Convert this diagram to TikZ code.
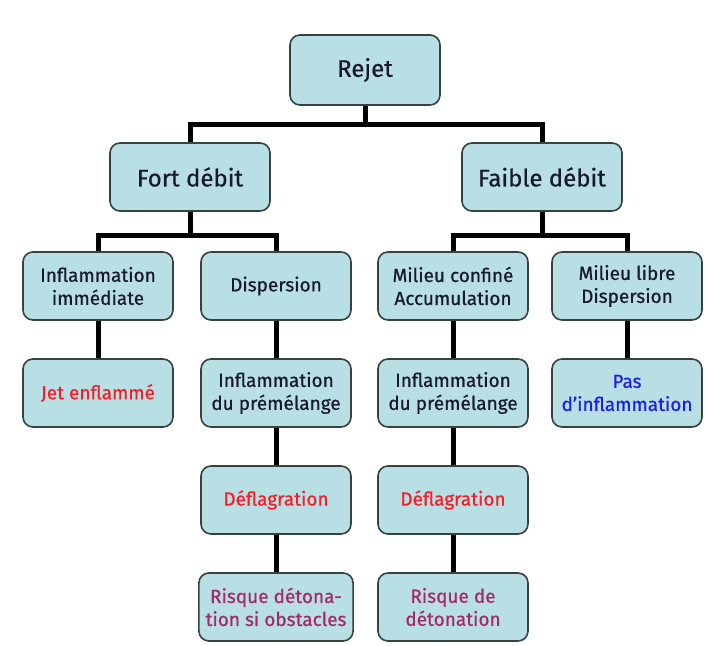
\documentclass[tikz,border=0pt]{standalone}
\usepackage{fontspec}
\setmainfont{Fira Sans}[FakeBold=0.6]
\usetikzlibrary{positioning}
\definecolor{boxfill}{RGB}{184,223,227}
\definecolor{boxedge}{RGB}{55,65,65}
\definecolor{textdark}{RGB}{25,25,45}
\definecolor{alertred}{RGB}{245,30,40}
\definecolor{nofire}{RGB}{30,30,235}
\definecolor{riskpurple}{RGB}{165,40,105}

\begin{document}
\begin{tikzpicture}[
    x=0.5pt, y=-0.5pt,
    b/.style={rectangle, rounded corners=5pt, draw=boxedge, line width=0.8pt, fill=boxfill,
      minimum width=75pt, minimum height=34pt, align=center, text=textdark,
      font=\fontsize{9.5}{11.5}\selectfont},
    big/.style={b, minimum width=80pt, font=\fontsize{12}{14}\selectfont},
    link/.style={line width=2.5pt}
]
    \useasboundingbox (0,0) rectangle (706,646);

    \node[big, minimum width=75pt, minimum height=35pt] (rejet) at (365,70) {Rejet};
    \node[big] (fort) at (190,177) {Fort débit};
    \node[big] (faible) at (542,177) {Faible débit};

    \node[b] (immed) at (98,286) {Inflammation\\immédiate};
    \node[b] (disp) at (276,286) {Dispersion};
    \node[b] (confine) at (453,286) {Milieu confiné\\Accumulation};
    \node[b] (libre) at (627,286) {Milieu libre\\Dispersion};

    \node[b, text=alertred] (jet) at (98,393) {Jet enflammé};
    \node[b] (premA) at (276,393) {Inflammation\\du prémélange};
    \node[b] (premB) at (453,393) {Inflammation\\du prémélange};
    \node[b, text=nofire] (pas) at (627,393) {Pas\\d’inflammation};

    \node[b, text=alertred] (deflA) at (276,500) {Déflagration};
    \node[b, text=alertred] (deflB) at (453,500) {Déflagration};

    \node[b, text=riskpurple] (risqA) at (276,607) {Risque détona-\\tion si obstacles};
    \node[b, text=riskpurple] (risqB) at (453,607) {Risque de\\détonation};

    % tree links
    \coordinate (j0) at (365,125);
    \coordinate (j1) at (190,236);
    \coordinate (j2) at (542,236);
    \draw[link] (rejet) -- (j0);
    \draw[link] (fort.north) |- (j0) -| (faible.north);
    \draw[link] (fort) -- (j1);
    \draw[link] (immed.north) |- (j1) -| (disp.north);
    \draw[link] (faible) -- (j2);
    \draw[link] (confine.north) |- (j2) -| (libre.north);

    \draw[link] (immed) -- (jet);
    \draw[link] (disp) -- (premA);
    \draw[link] (premA) -- (deflA);
    \draw[link] (deflA) -- (risqA);
    \draw[link] (confine) -- (premB);
    \draw[link] (premB) -- (deflB);
    \draw[link] (deflB) -- (risqB);
    \draw[link] (libre) -- (pas);
\end{tikzpicture}
\end{document}
